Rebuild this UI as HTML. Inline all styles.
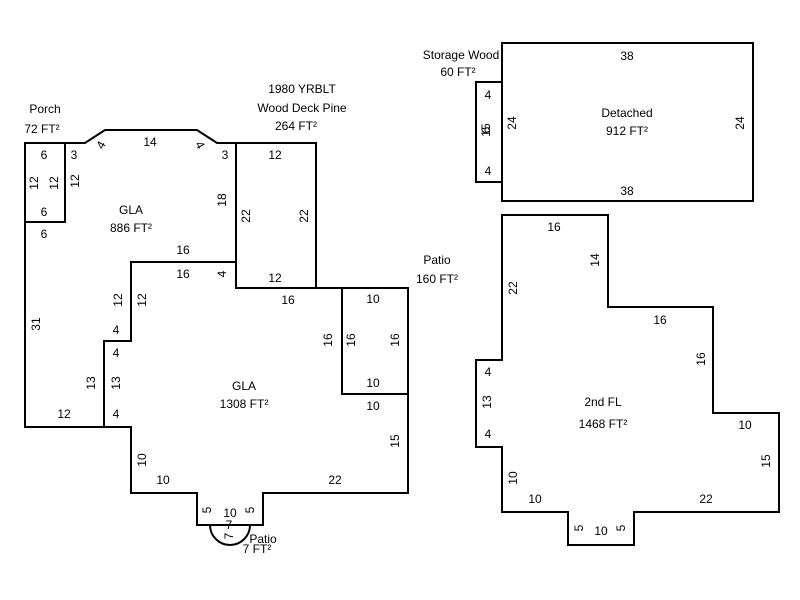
<!DOCTYPE html>
<html><head><style>
html,body{margin:0;padding:0;background:#fff;}
svg{display:block;}
text{font-family:"Liberation Sans",Arial,sans-serif;font-size:12px;fill:#000;text-anchor:middle;dominant-baseline:central;}
</style></head><body>
<svg width="800" height="600" viewBox="0 0 800 600" xmlns="http://www.w3.org/2000/svg">
<g fill="none" stroke="#000" stroke-width="2">
<polygon points="25,143 25,427 131,427 131,493 197,493 197,525 263,525 263,493 408,493 408,288 236,288 236,143 217,143 197,130 105,130 85,143"/>
<rect x="25" y="143" width="40" height="79"/>
<rect x="236" y="143" width="80" height="145"/>
<polyline points="104,427 104,341 131,341 131,262 236,262"/>
<rect x="342" y="288" width="66" height="106"/>
<path d="M210,525 A20,20 0 0 0 250,525"/>
<rect x="502" y="43" width="251" height="158"/>
<rect x="476" y="82" width="26" height="100"/>
<polygon points="502,215 608,215 608,307 713,307 713,413 779,413 779,512 634,512 634,545 568,545 568,512 502,512 502,447 476,447 476,360 502,360"/>
</g>
<!-- left labels -->
<text x="45" y="109">Porch</text><text x="42" y="129">72 FT²</text>
<text x="302" y="89">1980 YRBLT</text><text x="302" y="108">Wood Deck Pine</text><text x="296" y="126">264 FT²</text>
<text x="44" y="155">6</text><text x="44" y="212">6</text><text x="44" y="234">6</text>
<text x="74" y="155">3</text><text x="150" y="142">14</text><text x="225" y="155">3</text>
<text x="101" y="145" transform="rotate(-60 101 145)">4</text>
<text x="200" y="145" transform="rotate(60 200 145)">4</text>
<text x="34" y="183" transform="rotate(-90 34 183)">12</text>
<text x="54" y="183" transform="rotate(-90 54 183)">12</text>
<text x="75" y="181" transform="rotate(-90 75 181)">12</text>
<text x="222" y="200" transform="rotate(-90 222 200)">18</text>
<text x="246" y="216" transform="rotate(-90 246 216)">22</text>
<text x="304" y="216" transform="rotate(-90 304 216)">22</text>
<text x="275" y="155">12</text><text x="275" y="278">12</text>
<text x="131" y="210">GLA</text><text x="131" y="228">886 FT²</text>
<text x="183" y="250">16</text><text x="183" y="274">16</text>
<text x="222" y="274" transform="rotate(-90 222 274)">4</text>
<text x="288" y="300">16</text>
<text x="437" y="260">Patio</text><text x="437" y="279">160 FT²</text>
<text x="373" y="299">10</text><text x="373" y="383">10</text><text x="373" y="406">10</text>
<text x="328" y="340" transform="rotate(-90 328 340)">16</text>
<text x="351" y="340" transform="rotate(-90 351 340)">16</text>
<text x="395" y="340" transform="rotate(-90 395 340)">16</text>
<text x="36" y="324" transform="rotate(-90 36 324)">31</text>
<text x="118" y="300" transform="rotate(-90 118 300)">12</text>
<text x="142" y="300" transform="rotate(-90 142 300)">12</text>
<text x="116" y="330">4</text><text x="116" y="353">4</text><text x="116" y="414">4</text>
<text x="91" y="383" transform="rotate(-90 91 383)">13</text>
<text x="116" y="383" transform="rotate(-90 116 383)">13</text>
<text x="64" y="414">12</text>
<text x="244" y="386">GLA</text><text x="244" y="404">1308 FT²</text>
<text x="395" y="441" transform="rotate(-90 395 441)">15</text>
<text x="142" y="460" transform="rotate(-90 142 460)">10</text>
<text x="163" y="480">10</text><text x="335" y="480">22</text>
<text x="207" y="510" transform="rotate(-90 207 510)">5</text>
<text x="230" y="513">10</text>
<text x="250" y="510" transform="rotate(-90 250 510)">5</text>
<text x="229" y="525">7</text>
<text x="229" y="536" transform="rotate(-90 229 536)">7</text>
<text x="263" y="539">Patio</text><text x="257" y="549">7 FT²</text>
<!-- right labels -->
<text x="461" y="55">Storage Wood</text><text x="458" y="72">60 FT²</text>
<text x="488" y="95">4</text><text x="488" y="171">4</text>
<text x="486" y="130" transform="rotate(-90 486 130)">15</text>
<text x="486" y="130" transform="rotate(-90 486 130)">6</text>
<text x="512" y="123" transform="rotate(-90 512 123)">24</text>
<text x="740" y="123" transform="rotate(-90 740 123)">24</text>
<text x="627" y="56">38</text><text x="627" y="191">38</text>
<text x="627" y="113">Detached</text><text x="627" y="131">912 FT²</text>
<text x="554" y="227">16</text>
<text x="595" y="260" transform="rotate(-90 595 260)">14</text>
<text x="513" y="288" transform="rotate(-90 513 288)">22</text>
<text x="660" y="320">16</text>
<text x="701" y="359" transform="rotate(-90 701 359)">16</text>
<text x="488" y="372">4</text><text x="488" y="434">4</text>
<text x="487" y="402" transform="rotate(-90 487 402)">13</text>
<text x="603" y="402">2nd FL</text><text x="603" y="424">1468 FT²</text>
<text x="745" y="425">10</text>
<text x="766" y="461" transform="rotate(-90 766 461)">15</text>
<text x="513" y="478" transform="rotate(-90 513 478)">10</text>
<text x="535" y="499">10</text><text x="706" y="499">22</text>
<text x="579" y="528" transform="rotate(-90 579 528)">5</text>
<text x="601" y="531">10</text>
<text x="621" y="528" transform="rotate(-90 621 528)">5</text>
</svg>
</body></html>
